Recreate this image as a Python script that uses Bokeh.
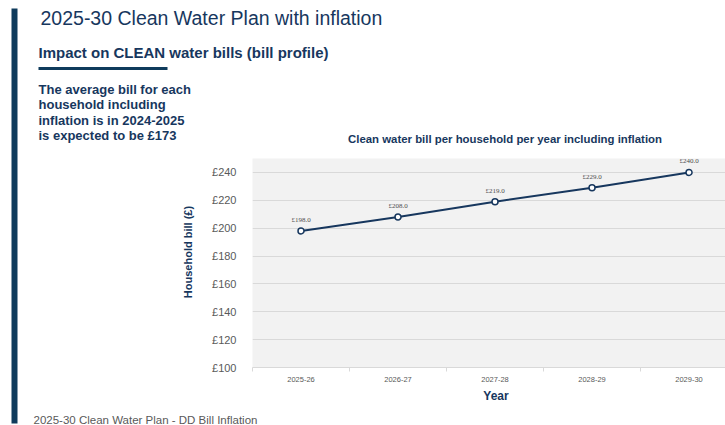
import math
from bokeh.plotting import figure
from bokeh.layouts import column, row
from bokeh.models import (ColumnDataSource, FixedTicker, PrintfTickFormatter, LabelSet, Range1d)
from bokeh.core.properties import value
from bokeh.embed import file_html
from bokeh.resources import INLINE

# ---- data ----
years = ["2025-26", "2026-27", "2027-28", "2028-29", "2029-30"]
bills = [198.0, 208.0, 219.0, 229.0, 240.0]
y_ticks = [100, 120, 140, 160, 180, 200, 220, 240]

title_text = "2025-30 Clean Water Plan with inflation"
subtitle_text = "Impact on CLEAN water bills (bill profile)"
para_lines = ["The average bill for each", "household including",
              "inflation is in 2024-2025", "is expected to be £173"]
chart_title = "Clean water bill per household per year including inflation"
y_label = "Household bill (£)"
x_label = "Year"
footer_text = "2025-30 Clean Water Plan -  DD Bill Inflation"

NAVY = "#17375E"
BAR = "#0F3B5C"
GREY = "#595959"
FONT = "Liberation Sans"
W, H = 725, 425
BAR_W = 30          # width of the strip holding the vertical accent bar
LEFT_W = 200        # page x where the chart figure starts


def text_fig(width, height):
    f = figure(width=width, height=height, output_backend="svg", toolbar_location=None,
               x_range=Range1d(0, width), y_range=Range1d(0, height),
               x_axis_type=None, y_axis_type=None, min_border=0)
    f.outline_line_color = None
    f.grid.visible = False
    f.background_fill_color = "white"
    f.border_fill_color = "white"
    return f


def txt(f, x0, y0, s, px, py, size, color=NAVY, bold=False, align="left", angle=0):
    f.text(x=[px - x0], y=[f.height - (py - y0)], text=[s], text_font=value(FONT),
           text_font_size=value(size), text_color=color,
           text_font_style=value("bold" if bold else "normal"),
           text_align=value(align), text_baseline=value("middle"), angle=angle)


def box(f, x0, y0, l, r, t, b, color=BAR):
    f.quad(left=[l - x0], right=[r - x0], top=[f.height - (t - y0)],
           bottom=[f.height - (b - y0)], fill_color=color, line_color=None)


# ---- accent bar strip (page x 0..30, full height) ----
barf = text_fig(BAR_W, H)
box(barf, 0, 0, 11, 17, 8, 423)

# ---- top band (page y 0..158) ----
TOP_H = 158
top = text_fig(W - BAR_W, TOP_H)
txt(top, BAR_W, 0, title_text, 40, 17, "19.5px")
txt(top, BAR_W, 0, subtitle_text, 38, 52, "15px", bold=True)
box(top, BAR_W, 0, 38, 167, 66.5, 69.5)
for i, s in enumerate(para_lines):
    txt(top, BAR_W, 0, s, 38, 89 + i * 15.3, "13px", bold=True)
txt(top, BAR_W, 0, chart_title, 504.5, 138, "11.4px", bold=True, align="center")

# ---- middle band (page y 158..385) ----
MID_TOP = 158
MID_H = 227
left = text_fig(LEFT_W - BAR_W, MID_H)
txt(left, BAR_W, MID_TOP, y_label, 187, 251.5, "11px", bold=True, align="center",
    angle=math.pi / 2)

idx = list(range(len(years)))
src = ColumnDataSource(dict(x=idx, y=bills, lab=["£%.1f" % b for b in bills]))

p = figure(width=W - LEFT_W, height=MID_H, output_backend="svg", toolbar_location=None,
           x_range=Range1d(-0.5, 4.376), y_range=Range1d(100, 250),
           min_border_left=252 - LEFT_W, min_border_top=0, min_border_bottom=18,
           min_border_right=0)
p.outline_line_color = None
p.background_fill_color = "#F2F2F2"
p.border_fill_color = "white"

p.xaxis.ticker = FixedTicker(ticks=idx, minor_ticks=[i - 0.5 for i in idx] + [len(idx) - 0.5])
p.xaxis.major_label_overrides = {i: y for i, y in enumerate(years)}
p.xaxis.major_tick_out = 0
p.xaxis.major_tick_in = 0
p.xaxis.minor_tick_out = 4
p.xaxis.minor_tick_in = 0
p.xaxis.minor_tick_line_color = "#D9D9D9"
p.xaxis.axis_line_color = "#D9D9D9"
p.xaxis.major_label_text_font = FONT
p.xaxis.major_label_text_font_size = "7.5px"
p.xaxis.major_label_text_color = GREY
p.xaxis.major_label_standoff = 5

p.yaxis.ticker = FixedTicker(ticks=y_ticks)
p.yaxis.formatter = PrintfTickFormatter(format="£%d")
p.yaxis.axis_line_color = None
p.yaxis.major_tick_line_color = None
p.yaxis.minor_tick_line_color = None
p.yaxis.major_label_text_font = FONT
p.yaxis.major_label_text_font_size = "11px"
p.yaxis.major_label_text_color = GREY
p.yaxis.major_label_standoff = 10

p.xgrid.grid_line_color = None
p.ygrid.ticker = FixedTicker(ticks=y_ticks)
p.ygrid.grid_line_color = "#D9D9D9"
p.ygrid.grid_line_width = 1

p.line("x", "y", source=src, line_color=NAVY, line_width=2)
p.scatter("x", "y", source=src, size=6, fill_color="white", line_color=NAVY, line_width=1.5)
p.add_layout(LabelSet(x="x", y="y", text="lab", source=src, y_offset=11,
                      text_align="center", text_baseline="middle",
                      text_font=FONT, text_font_size="7px", text_color="#4D4D4D"))

# ---- bottom band (page y 385..425) ----
BOT_TOP = 385
bot = text_fig(W - BAR_W, H - BOT_TOP)
txt(bot, BAR_W, BOT_TOP, x_label, 495.5, 395.7, "12px", bold=True, align="center")
txt(bot, BAR_W, BOT_TOP, footer_text, 33, 419.5, "11.5px", color=GREY)

layout = row(barf,
             column(top, row(column(left), p, spacing=0), bot, spacing=0),
             spacing=0)
open("out.html", "w").write(file_html(layout, INLINE))
